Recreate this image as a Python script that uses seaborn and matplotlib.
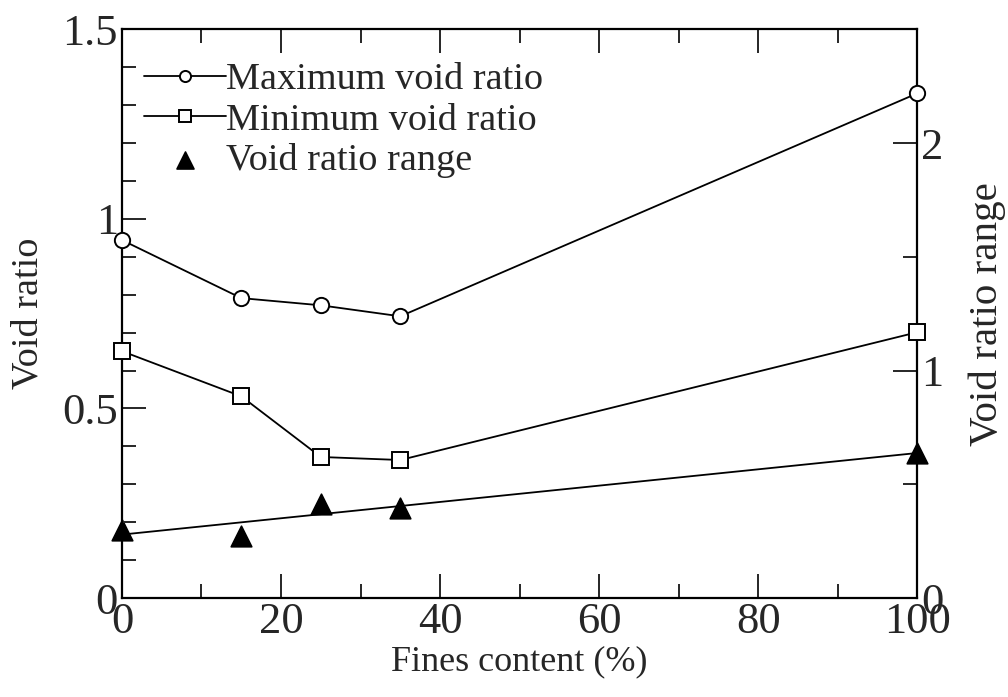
import numpy as np
import pandas as pd
import matplotlib
matplotlib.use("Agg")
import matplotlib.pyplot as plt
import seaborn as sns
from matplotlib.ticker import MultipleLocator

# data
fines = [0, 15, 25, 35, 100]
e_max = [0.944, 0.791, 0.772, 0.743, 1.331]
e_min = [0.651, 0.532, 0.372, 0.364, 0.701]
e_range = [0.301, 0.273, 0.414, 0.396, 0.638]

df = pd.DataFrame({"fines": fines, "emax": e_max, "emin": e_min, "range": e_range})

sns.set_style("ticks")
plt.rcParams["font.family"] = ["Liberation Serif", "DejaVu Serif"]

fig, ax = plt.subplots(figsize=(10.08, 6.97), dpi=100)
fig.subplots_adjust(left=0.121, right=0.910, bottom=0.142, top=0.958)
ax2 = ax.twinx()
# left axes on top so its markers sit over the frame
ax.set_zorder(ax2.get_zorder() + 1)
ax.patch.set_visible(False)

mk = dict(markersize=11, markerfacecolor="white", markeredgecolor="k",
          markeredgewidth=1.4, clip_on=False, zorder=4)
sns.lineplot(data=df, x="fines", y="emax", ax=ax, color="k", lw=1.3, marker="o",
             label="Maximum void ratio", **mk)
sns.lineplot(data=df, x="fines", y="emin", ax=ax, color="k", lw=1.3, marker="s",
             label="Minimum void ratio", **mk)

sns.regplot(data=df, x="fines", y="range", ax=ax2, scatter=False, ci=None,
            color="k", line_kws={"lw": 1.3})
sns.scatterplot(data=df, x="fines", y="range", ax=ax2, marker="^", s=220,
                color="k", edgecolor="k", clip_on=False, zorder=4,
                label="Void ratio range")

ax.set_xlim(0, 100)
ax.set_ylim(0, 1.5)
ax2.set_ylim(0, 2.5)

ax.xaxis.set_major_locator(MultipleLocator(20))
ax.xaxis.set_minor_locator(MultipleLocator(10))
ax.set_yticks([0, 0.5, 1, 1.5])
ax.set_yticklabels(["0", "0.5", "1", "1.5"])
ax.yaxis.set_minor_locator(MultipleLocator(0.1))
ax2.yaxis.set_major_locator(MultipleLocator(1))
ax2.yaxis.set_minor_locator(MultipleLocator(0.5))

ax.tick_params(axis="both", which="both", direction="in", top=True, bottom=True,
               left=True, right=False, labelright=False, labelsize=32,
               width=1.4, pad=3)
ax.tick_params(which="major", length=17)
ax.tick_params(which="minor", length=10)
ax2.tick_params(axis="y", which="both", direction="in", left=False, right=True,
                labelleft=False, labelright=True, labelsize=32, width=1.4, pad=3)
ax2.tick_params(which="major", length=17)
ax2.tick_params(which="minor", length=10)

for s in ax.spines.values():
    s.set_linewidth(1.6)
    s.set_color("k")
for s in ax2.spines.values():
    s.set_visible(False)

ax.set_xlabel("Fines content (%)", fontsize=26, labelpad=2)
ax.set_ylabel("Void ratio", fontsize=27.5, labelpad=12)
ax2.set_ylabel("Void ratio range", fontsize=29.5, labelpad=18)

h1, l1 = ax.get_legend_handles_labels()
h2, l2 = ax2.get_legend_handles_labels()
if ax2.get_legend() is not None:
    ax2.get_legend().remove()
leg = ax.legend(h1 + h2, l1 + l2, loc="upper left", bbox_to_anchor=(0.013, 0.962),
                frameon=False, fontsize=27.5, handlelength=2.15, handletextpad=0.0,
                labelspacing=0.15, borderaxespad=0.0, borderpad=0.3)
for h in leg.legend_handles:
    if hasattr(h, "set_markersize"):
        h.set_markersize(8)
    else:
        h.set_sizes([150])

fig.savefig("out.png", dpi=100)
